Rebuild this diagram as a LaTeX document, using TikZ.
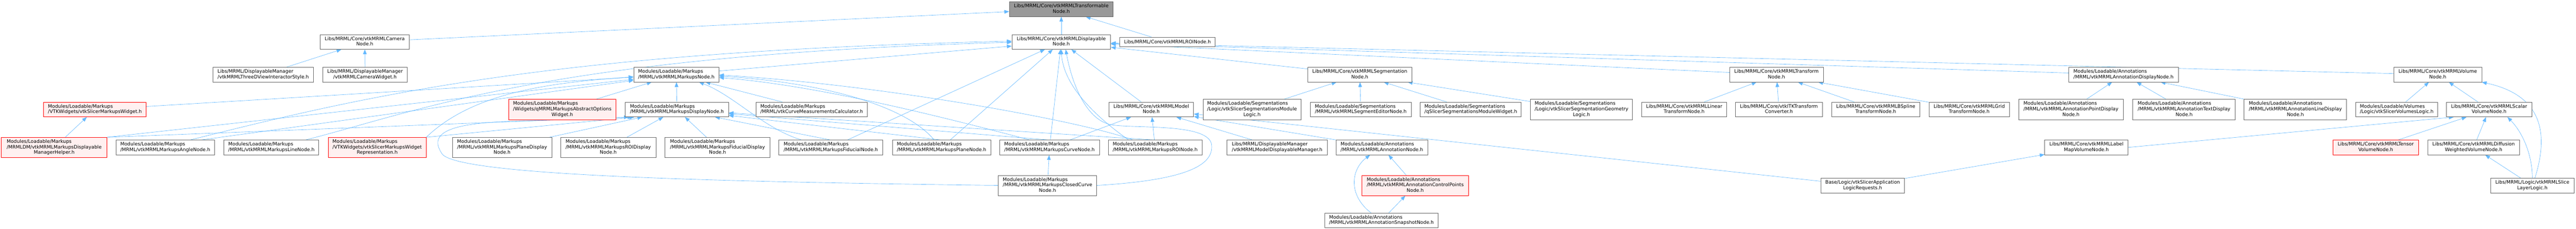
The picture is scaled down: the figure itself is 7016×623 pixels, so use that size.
\documentclass[tikz,border=0pt]{standalone}
\usepackage{fontspec}
\setmainfont{DejaVu Sans}
\usepackage{tikz}
\usetikzlibrary{arrows.meta,positioning,backgrounds}
\definecolor{depblue}{HTML}{63B8FF}
\definecolor{boxgray}{HTML}{666666}
\definecolor{rootgray}{HTML}{999999}
\definecolor{hotpink}{HTML}{FFF0F0}
\newcommand{\twol}[2]{\begin{tabular}{@{}l@{}}#1\\\multicolumn{1}{@{}c@{}}{#2}\end{tabular}}
\newcommand{\threel}[3]{\begin{tabular}{@{}l@{}}#1\\#2\\\multicolumn{1}{@{}c@{}}{#3}\end{tabular}}

\begin{document}
\begin{tikzpicture}[->,>={Triangle[length=13pt,width=10pt]},x=1pt,y=1pt,
  hfile/.style={draw=boxgray,line width=1.1pt,fill=white,inner xsep=5pt,inner ysep=2pt,minimum height=40pt,font=\fontsize{13}{14.8}\selectfont},
  wd/.style={minimum width=#1pt},
  tall/.style={minimum height=55pt},
  hot/.style={draw=red,fill=hotpink},
  root/.style={fill=rootgray},
  dep/.style={draw=depblue,line width=0.9pt},
  every edge/.append style={dep}]
\useasboundingbox (0,0) rectangle (7016,-623);

\node[hfile,root,wd=283] (tfm) at (2890.5,-25) {\twol{Libs/MRML/Core/vtkMRMLTransformable}{Node.h}};

\node[hfile,wd=243] (camera) at (993.5,-114) {\twol{Libs/MRML/Core/vtkMRMLCamera}{Node.h}};
\node[hfile,wd=269] (disp) at (2890.5,-114) {\twol{Libs/MRML/Core/vtkMRMLDisplayable}{Node.h}};
\node[hfile,wd=259,minimum height=26pt] [right=24pt of disp] (roi) {Libs/MRML/Core/vtkMRMLROINode.h};

\node[hfile,wd=274] (style3d) at (717,-203) {\twol{Libs/MRML/DisplayableManager}{/vtkMRMLThreeDViewInteractorStyle.h}};
\node[hfile,wd=230] [right=24pt of style3d] (camwidget) {\twol{Libs/MRML/DisplayableManager}{/vtkMRMLCameraWidget.h}};
\node[hfile,wd=232] (mkpnode) at (1842,-203) {\twol{Modules/Loadable/Markups}{/MRML/vtkMRMLMarkupsNode.h}};
\node[hfile,wd=283] (segnode) at (3703.5,-203) {\twol{Libs/MRML/Core/vtkMRMLSegmentation}{Node.h}};
\node[hfile,wd=255] (xfmnode) at (4838.5,-203) {\twol{Libs/MRML/Core/vtkMRMLTransform}{Node.h}};
\node[hfile,wd=299] (anndisp) at (5783.5,-203) {\twol{Modules/Loadable/Annotations}{/MRML/vtkMRMLAnnotationDisplayNode.h}};
\node[hfile,wd=239] (volnode) at (6639.5,-203) {\twol{Libs/MRML/Core/vtkMRMLVolume}{Node.h}};

\node[hfile,hot,wd=279] (widget) at (258.5,-298) {\twol{Modules/Loadable/Markups}{/VTKWidgets/vtkSlicerMarkupsWidget.h}};
\node[hfile,hot,tall,wd=291] (optwidget) at (1531.5,-298) {\threel{Modules/Loadable/Markups}{/Widgets/qMRMLMarkupsAbstractOptions}{Widget.h}};
\node[hfile,wd=281] [right=25pt of optwidget] (mkpdisp) {\twol{Modules/Loadable/Markups}{/MRML/vtkMRMLMarkupsDisplayNode.h}};
\node[hfile,wd=303] (curvecalc) at (2210.5,-298) {\twol{Modules/Loadable/Markups}{/MRML/vtkCurveMeasurementsCalculator.h}};
\node[hfile,wd=231] (model) at (3135.5,-298) {\twol{Libs/MRML/Core/vtkMRMLModel}{Node.h}};
\node[hfile,tall,wd=266] [right=25pt of model] (seglogic) {\threel{Modules/Loadable/Segmentations}{/Logic/vtkSlicerSegmentationsModule}{Logic.h}};
\node[hfile,wd=274] [right=25pt of seglogic] (segeditor) {\twol{Modules/Loadable/Segmentations}{/MRML/vtkMRMLSegmentEditorNode.h}};
\node[hfile,wd=275] [right=24pt of segeditor] (segwidget) {\twol{Modules/Loadable/Segmentations}{/qSlicerSegmentationsModuleWidget.h}};
\node[hfile,tall,wd=278] [right=24pt of segwidget] (seggeom) {\threel{Modules/Loadable/Segmentations}{/Logic/vtkSlicerSegmentationGeometry}{Logic.h}};
\node[hfile,wd=231] [right=24pt of seggeom] (linear) {\twol{Libs/MRML/Core/vtkMRMLLinear}{TransformNode.h}};
\node[hfile,wd=237] [right=23pt of linear] (itk) {\twol{Libs/MRML/Core/vtkITKTransform}{Converter.h}};
\node[hfile,wd=240] [right=24pt of itk] (bspline) {\twol{Libs/MRML/Core/vtkMRMLBSpline}{TransformNode.h}};
\node[hfile,wd=219] [right=24pt of bspline] (grid) {\twol{Libs/MRML/Core/vtkMRMLGrid}{TransformNode.h}};
\node[hfile,tall,wd=285] [right=24pt of grid] (pointdisp) {\threel{Modules/Loadable/Annotations}{/MRML/vtkMRMLAnnotationPointDisplay}{Node.h}};
\node[hfile,tall,wd=279] [right=25pt of pointdisp] (textdisp) {\threel{Modules/Loadable/Annotations}{/MRML/vtkMRMLAnnotationTextDisplay}{Node.h}};
\node[hfile,tall,wd=279] [right=23pt of textdisp] (linedisp) {\threel{Modules/Loadable/Annotations}{/MRML/vtkMRMLAnnotationLineDisplay}{Node.h}};
\node[hfile,wd=223] [right=24pt of linedisp] (volumeslogic) {\twol{Modules/Loadable/Volumes}{/Logic/vtkSlicerVolumesLogic.h}};
\node[hfile,wd=232] [right=23pt of volumeslogic] (scalar) {\twol{Libs/MRML/Core/vtkMRMLScalar}{VolumeNode.h}};

\node[hfile,hot,tall,wd=287] (helper) at (147.5,-401.5) {\threel{Modules/Loadable/Markups}{/MRMLDM/vtkMRMLMarkupsDisplayable}{ManagerHelper.h}};
\node[hfile,wd=268] [right=24pt of helper] (angle) {\twol{Modules/Loadable/Markups}{/MRML/vtkMRMLMarkupsAngleNode.h}};
\node[hfile,wd=258] [right=25pt of angle] (line) {\twol{Modules/Loadable/Markups}{/MRML/vtkMRMLMarkupsLineNode.h}};
\node[hfile,hot,tall,wd=266] [right=25pt of line] (widgetrep) {\threel{Modules/Loadable/Markups}{/VTKWidgets/vtkSlicerMarkupsWidget}{Representation.h}};
\node[hfile,tall,wd=271] (planedisp) at (1367.5,-401.5) {\threel{Modules/Loadable/Markups}{/MRML/vtkMRMLMarkupsPlaneDisplay}{Node.h}};
\node[hfile,tall,wd=259] [right=23pt of planedisp] (roidisp) {\threel{Modules/Loadable/Markups}{/MRML/vtkMRMLMarkupsROIDisplay}{Node.h}};
\node[hfile,tall,wd=286] [right=24pt of roidisp] (fiddisp) {\threel{Modules/Loadable/Markups}{/MRML/vtkMRMLMarkupsFiducialDisplay}{Node.h}};
\node[hfile,wd=283] [right=23pt of fiddisp] (fid) {\twol{Modules/Loadable/Markups}{/MRML/vtkMRMLMarkupsFiducialNode.h}};
\node[hfile,wd=268] [right=25pt of fid] (plane) {\twol{Modules/Loadable/Markups}{/MRML/vtkMRMLMarkupsPlaneNode.h}};
\node[hfile,wd=272] [right=23pt of plane] (curve) {\twol{Modules/Loadable/Markups}{/MRML/vtkMRMLMarkupsCurveNode.h}};
\node[hfile,wd=255] [right=23pt of curve] (mroi) {\twol{Modules/Loadable/Markups}{/MRML/vtkMRMLMarkupsROINode.h}};
\node[hfile,wd=273] (modeldm) at (3478.5,-401) {\twol{Libs/MRML/DisplayableManager}{/vtkMRMLModelDisplayableManager.h}};
\node[hfile,wd=249] [right=23pt of modeldm] (annnode) {\twol{Modules/Loadable/Annotations}{/MRML/vtkMRMLAnnotationNode.h}};
\node[hfile,wd=227] (labelmap) at (5682.5,-401) {\twol{Libs/MRML/Core/vtkMRMLLabel}{MapVolumeNode.h}};
\node[hfile,hot,wd=233] (tensor) at (6470.5,-401) {\twol{Libs/MRML/Core/vtkMRMLTensor}{VolumeNode.h}};
\node[hfile,wd=250] [right=24pt of tensor] (dwi) {\twol{Libs/MRML/Core/vtkMRMLDiffusion}{WeightedVolumeNode.h}};

\node[hfile,tall,wd=268] (closed) at (2853,-504.5) {\threel{Modules/Loadable/Markups}{/MRML/vtkMRMLMarkupsClosedCurve}{Node.h}};
\node[hfile,hot,tall,wd=291] (ctrlpts) at (3854.5,-504.5) {\threel{Modules/Loadable/Annotations}{/MRML/vtkMRMLAnnotationControlPoints}{Node.h}};
\node[hfile,wd=228] (apprequests) at (5073,-505) {\twol{Base/Logic/vtkSlicerApplication}{LogicRequests.h}};
\node[hfile,wd=228] (slicelayer) at (6897,-505) {\twol{Libs/MRML/Logic/vtkMRMLSlice}{LayerLogic.h}};

\node[hfile,wd=309] (snapshot) at (3762.5,-600) {\twol{Modules/Loadable/Annotations}{/MRML/vtkMRMLAnnotationSnapshotNode.h}};

\begin{scope}[on background layer]
\path (camera) edge (tfm)
(disp) edge (tfm)
(roi) edge (tfm)
(style3d) edge (camera)
(camwidget) edge (camera)
(mkpnode) edge (disp)
(segnode) edge (disp)
(xfmnode) edge (disp)
(anndisp) edge (disp)
(volnode) edge (disp)
(model) edge (disp)
(curve) edge (disp)
(fid) edge (disp)
(plane) edge (disp)
(widget) edge (mkpnode)
(helper.north east) edge (mkpnode)
([xshift=96pt]angle.north) edge (mkpnode)
(optwidget) edge (mkpnode)
(mkpdisp) edge (mkpnode)
(curvecalc) edge (mkpnode)
(helper.north east) edge ([xshift=10pt]mkpdisp.south west)
(widgetrep.north east) edge ([xshift=25pt]mkpdisp.south west)
(planedisp) edge (mkpdisp)
(roidisp) edge (mkpdisp)
(fiddisp) edge (mkpdisp)
(fid.north) edge (mkpdisp)
(plane.north) edge (mkpdisp)
(curve.north) edge (mkpdisp)
(mroi.north) edge (mkpdisp)
(helper) edge (widget)
(closed) edge (curve)
(curve) edge (model)
(mroi) edge (model)
(modeldm) edge (model)
(annnode) edge (model)
(apprequests) edge (model)
(seglogic) edge (segnode)
(segeditor) edge (segnode)
(segwidget) edge (segnode)
(seggeom) edge (segnode)
(linear) edge (xfmnode)
(itk) edge (xfmnode)
(bspline) edge (xfmnode)
(grid) edge (xfmnode)
(pointdisp) edge (anndisp)
(textdisp) edge (anndisp)
(linedisp) edge (anndisp)
(ctrlpts) edge (annnode)
(snapshot) edge (ctrlpts)
(apprequests) edge (labelmap)
(labelmap.east) edge ([xshift=20pt]scalar.south west)
(volumeslogic) edge (volnode)
(scalar) edge (volnode)
(tensor) edge (scalar)
(dwi) edge (scalar)
(slicelayer) edge (dwi)
;
\draw[dep] ([xshift=-72pt]mroi.north) .. controls (2960,-300) and (2895,-220) .. (disp.south);
\draw[dep] (widgetrep.north east) .. controls (1290,-250) and (1500,-225) .. ([yshift=-6pt]mkpnode.west);
\draw[dep] ([xshift=-79pt]fid.north) .. controls (2080,-350) and (2000,-260) .. ([xshift=62pt]mkpnode.south);
\draw[dep] ([xshift=-20pt]plane.north) .. controls (2470,-290) and (2250,-225) .. ([yshift=-4pt]mkpnode.east);
\draw[dep] ([xshift=-53pt]curve.north) .. controls (2500,-300) and (2200,-230) .. ([yshift=-8pt]mkpnode.east);
\draw[dep] ([xshift=-60pt]mroi.north) .. controls (2950,-330) and (2400,-230) .. ([yshift=-1pt]mkpnode.east);
\draw[dep] ([xshift=-28pt]snapshot.north) .. controls (3670,-530) and (3680,-460) .. ([xshift=-32pt]annnode.south);
\draw[dep] ([xshift=7pt]slicelayer.north) .. controls (6940,-370) and (6930,-260) .. (volnode.south east);
\draw[dep] (slicelayer.north) .. controls (6897,-420) and (6870,-360) .. ([xshift=50pt]scalar.south);
\draw[dep] ([xshift=67pt]angle.north) .. controls (1000,-260) and (1500,-140) .. ([yshift=2pt]disp.west);
\draw[dep] ([xshift=92pt]line.north) .. controls (1150,-300) and (1500,-150) .. ([yshift=-1pt]disp.west);
\draw[dep] (closed.east) .. controls (3230,-490) and (3305,-450) .. (3300,-395) .. controls (3295,-335) and (3100,-350) .. (3030,-340) .. controls (2960,-330) and (2920,-230) .. ([xshift=12pt]disp.south);
\draw[dep] (closed.west) .. controls (2000,-495) and (1260,-480) .. (1205,-420) .. controls (1170,-370) and (1200,-335) .. (1400,-330) -- ([xshift=20pt]mkpdisp.south west);
\end{scope}
\end{tikzpicture}
\end{document}
